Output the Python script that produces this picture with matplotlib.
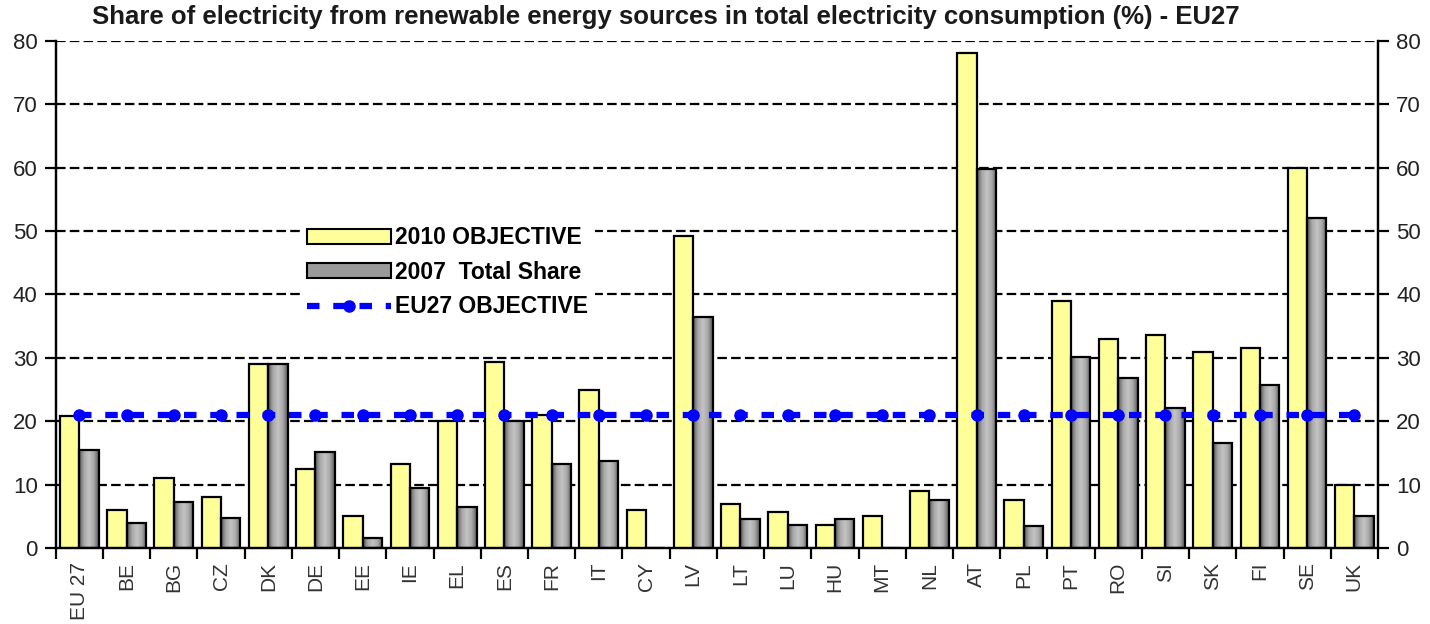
import numpy as np
import matplotlib
matplotlib.use("Agg")
import matplotlib.pyplot as plt
from matplotlib.colors import LinearSegmentedColormap
from matplotlib.patches import Patch
from matplotlib.lines import Line2D

plt.rcParams['font.family'] = ['Liberation Sans', 'DejaVu Sans']

# data
countries = ["EU 27", "BE", "BG", "CZ", "DK", "DE", "EE", "IE", "EL", "ES", "FR", "IT", "CY", "LV",
             "LT", "LU", "HU", "MT", "NL", "AT", "PL", "PT", "RO", "SI", "SK", "FI", "SE", "UK"]
objective_2010 = [20.8, 6.0, 11.0, 8.0, 29.0, 12.5, 5.1, 13.2, 20.1, 29.4, 21.0, 25.0, 6.0, 49.3,
                  7.0, 5.7, 3.6, 5.0, 9.0, 78.1, 7.5, 39.0, 33.0, 33.6, 31.0, 31.5, 60.0, 10.0]
share_2007 = [15.4, 4.0, 7.3, 4.8, 29.0, 15.1, 1.5, 9.4, 6.5, 20.0, 13.3, 13.7, 0.0, 36.4,
              4.6, 3.7, 4.6, 0.0, 7.5, 59.8, 3.5, 30.1, 26.9, 22.1, 16.6, 25.7, 52.1, 5.0]
eu27_objective = 21.0

title = "Share of electricity from renewable energy sources in total electricity consumption (%) - EU27"

x = np.arange(len(countries))
w = 0.41

fig = plt.figure(figsize=(14.3, 6.24), dpi=100)
ax = fig.add_axes([0.039, 0.1218, 0.9246, 0.8125])

# dashed grid behind everything
for yv in range(10, 90, 10):
    ax.axhline(yv, color='black', lw=1.6, ls=(0, (4.3, 1.9)), zorder=1)

ax.bar(x - w / 2, objective_2010, w, color='#FFFF99', edgecolor='black', lw=1.6, zorder=3)
grey_bars = ax.bar(x + w / 2, share_2007, w, color='none', edgecolor='black', lw=1.6, zorder=3)

# horizontal grey gradient inside the 2007 bars
grad_cmap = LinearSegmentedColormap.from_list("greys", ['#5a5a5a', '#a8a8a8', '#c4c4c4', '#a8a8a8', '#5a5a5a'])
grad = np.linspace(0, 1, 64).reshape(1, -1)
for b in grey_bars:
    if b.get_height() <= 0:
        continue
    im = ax.imshow(grad, cmap=grad_cmap, aspect='auto', zorder=2.5,
                   extent=[b.get_x(), b.get_x() + b.get_width(), 0, b.get_height()])
    im.set_clip_path(b)

ax.plot(x, [eu27_objective] * len(x), color='#0000FF', lw=4.5, ls=(0, (2, 2.2)),
        marker='o', markersize=8, zorder=4)

ax.set_xlim(-0.5, len(x) - 0.5)
ax.set_ylim(0, 80)
ax.set_yticks(range(0, 90, 10))
ax.set_xticks(x)
ax.set_xticklabels(countries, rotation=90, fontsize=15, color='#333333')
ax.set_xticks(np.arange(-0.5, len(x), 1), minor=True)
ax.tick_params(axis='x', which='major', length=0, pad=10)
ax.tick_params(axis='x', which='minor', length=8, width=1.6, direction='out')
ax.tick_params(axis='y', length=8, width=1.6, labelsize=16, labelcolor='#222222', pad=5)

ax2 = ax.twinx()
ax2.set_ylim(0, 80)
ax2.set_yticks(range(0, 90, 10))
ax2.tick_params(axis='y', length=8, width=1.6, labelsize=16, labelcolor='#222222', pad=5)

for a in (ax, ax2):
    a.spines['top'].set_visible(False)
    for s in ('left', 'right', 'bottom'):
        a.spines[s].set_linewidth(1.6)

handles = [Patch(facecolor='#FFFF99', edgecolor='black', lw=1.5),
           Patch(facecolor='#9a9a9a', edgecolor='black', lw=1.5),
           Line2D([], [], color='#0000FF', lw=4.5, ls=(0, (2, 2.2)), marker='o', markersize=8)]
labels = ["2010 OBJECTIVE", "2007  Total Share", "EU27 OBJECTIVE"]
leg = ax2.legend(handles, labels, loc='upper left', bbox_to_anchor=(0.185, 0.648),
                 prop={'weight': 'bold', 'size': 16.5}, handlelength=3.65, handleheight=0.6,
                 handletextpad=0.2, labelspacing=0.5, borderaxespad=0, borderpad=0.3,
                 frameon=True, fancybox=False, edgecolor='none', facecolor='white', framealpha=1)
leg.set_zorder(10)

fig.text(0.064, 0.972, title, ha='left', va='center', fontsize=18.5, fontweight='bold', color='#1a1a1a')

fig.savefig("out.png", dpi=100)
